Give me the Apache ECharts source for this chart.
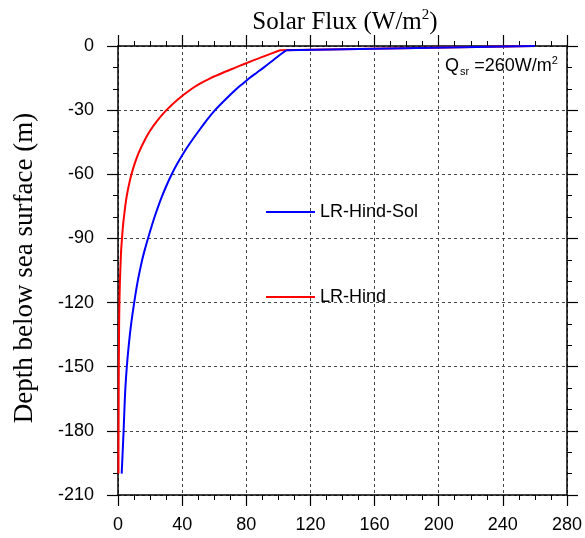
<!DOCTYPE html>
<html>
<head>
<meta charset="utf-8">
<script src="https://cdn.jsdelivr.net/npm/echarts@6/dist/echarts.min.js"></script>
<style>html,body{margin:0;padding:0;background:#fff}#c{width:585px;height:538px}</style>
</head>
<body>
<div id="c"></div>
<script>
// Depth (m) and solar flux (W/m^2)
const depths = [0,-2,-5,-7.5,-10,-12.5,-15,-17.5,-20,-25,-30,-35,-40,-45,-50,-55,-60,-65,-70,-75,-80,-85,-90,-95,-100,-110,-120,-130,-140,-150,-160,-170,-180,-190,-200];
const fluxHindSol = [260,105,99.5,95.3,91,86.5,82,78,74,67,60.5,55,50.1,45.3,40.9,37,33.5,30.4,27.6,25.1,22.8,20.7,18.7,16.8,15.1,12.3,10.1,8.2,6.7,5.5,4.6,4.0,3.5,2.9,2.3];
const fluxHind = [260,101,90.5,81.8,73.6,65.4,57.8,51.4,46,37.3,30.2,24.4,19.7,16,12.9,10.4,8.4,6.8,5.5,4.5,3.7,3.0,2.5,2.0,1.7,1.2,0.9,0.7,0.6,0.5,0.45,0.4,0.35,0.3,0.3];
const seriesNames = ['LR-Hind-Sol','LR-Hind'];
const xTicks = [0,40,80,120,160,200,240,280];
const yTicks = [0,-30,-60,-90,-120,-150,-180,-210];

const chart = echarts.init(document.getElementById('c'), null, {renderer:'canvas'});
const sans = 'Liberation Sans';
const serif = 'Liberation Serif';
const axisLineStyle = {color:'#000', width:1.5};
const gridLine = {show:true, lineStyle:{color:'#444', width:1, type:[3,3]}};

function xAx(pos, labels){
  return {
    type:'value', position:pos, min:xTicks[0], max:xTicks[xTicks.length-1], interval:40,
    axisLine:{show:true, onZero:false, lineStyle:axisLineStyle},
    axisTick:{show:true, inside:false, length:11, lineStyle:{color:'#000', width:1.2}},
    minorTick:{show:true, splitNumber:4, length:5, lineStyle:{color:'#000', width:1}},
    axisLabel:{show:labels, fontSize:18, fontFamily:sans, color:'#000', margin:21},
    splitLine: labels ? gridLine : {show:false}
  };
}
function yAx(pos, labels){
  return {
    type:'value', position:pos, min:yTicks[yTicks.length-1], max:yTicks[0], interval:30,
    axisLine:{show:true, onZero:false, lineStyle:axisLineStyle},
    axisTick:{show:true, inside:false, length:11, lineStyle:{color:'#000', width:1.2}},
    minorTick:{show:true, splitNumber:3, length:5, lineStyle:{color:'#000', width:1}},
    axisLabel:{show:labels, fontSize:18, fontFamily:sans, color:'#000', margin:24},
    splitLine: labels ? gridLine : {show:false}
  };
}
function pairs(vals){ return depths.map((d,i)=>[vals[i], d]); }
function lineSeries(name, color, data, smooth){
  return {name:name, type:'line', showSymbol:false, symbol:'none', color:color,
    smooth:smooth,
    lineStyle:{color:color, width:2}, data:data};
}

const hindPts = pairs(fluxHind);
const solPts = pairs(fluxHindSol);

const option = {
  animation:false,
  backgroundColor:'#fff',
  grid:{left:118, right:17, top:46, bottom:43, containLabel:false},
  xAxis:[xAx('bottom', true), xAx('top', false)],
  yAxis:[yAx('left', true), yAx('right', false)],
  legend:[
    {data:[seriesNames[0]], left:266, top:203, padding:0, itemWidth:49, itemHeight:2, icon:'rect',
     textStyle:{fontSize:18, fontFamily:sans, color:'#000'}},
    {data:[seriesNames[1]], left:266, top:288, padding:0, itemWidth:49, itemHeight:2, icon:'rect',
     textStyle:{fontSize:18, fontFamily:sans, color:'#000'}}
  ],
  series:[
    lineSeries(seriesNames[1], '#ff0000', hindPts.slice(0,2), false),
    lineSeries(seriesNames[1], '#ff0000', hindPts.slice(1), 0.3),
    lineSeries(seriesNames[0], '#0000ff', solPts.slice(0,2), false),
    lineSeries(seriesNames[0], '#0000ff', solPts.slice(1), 0.3)
  ],
  graphic:[
    {type:'text', x:345, y:3, style:{
      text:'{a|Solar Flux (W/m}{s|2}{a|)}', align:'center',
      rich:{a:{fontSize:25, fontFamily:serif, color:'#000', lineHeight:32, verticalAlign:'bottom'},
            s:{fontSize:15, fontFamily:serif, color:'#000', lineHeight:15, verticalAlign:'top', padding:[5,0,0,0]}}
    }},
    {type:'text', x:25, y:268, rotation:Math.PI/2, style:{
      text:'Depth below sea surface (m)', fontSize:27, fontFamily:serif, fill:'#000',
      align:'center', verticalAlign:'middle'
    }},
    {type:'text', x:445, y:55, style:{
      text:'{a|Q}{b|sr}{a| =260W/m}{c|2}',
      rich:{a:{fontSize:18, fontFamily:sans, color:'#000', lineHeight:22},
            b:{fontSize:11, fontFamily:sans, color:'#000', lineHeight:11, verticalAlign:'bottom', padding:[0,0,0,1]},
            c:{fontSize:11, fontFamily:sans, color:'#000', lineHeight:11, verticalAlign:'top'}}
    }}
  ]
};
chart.setOption(option);
</script>
</body>
</html>
